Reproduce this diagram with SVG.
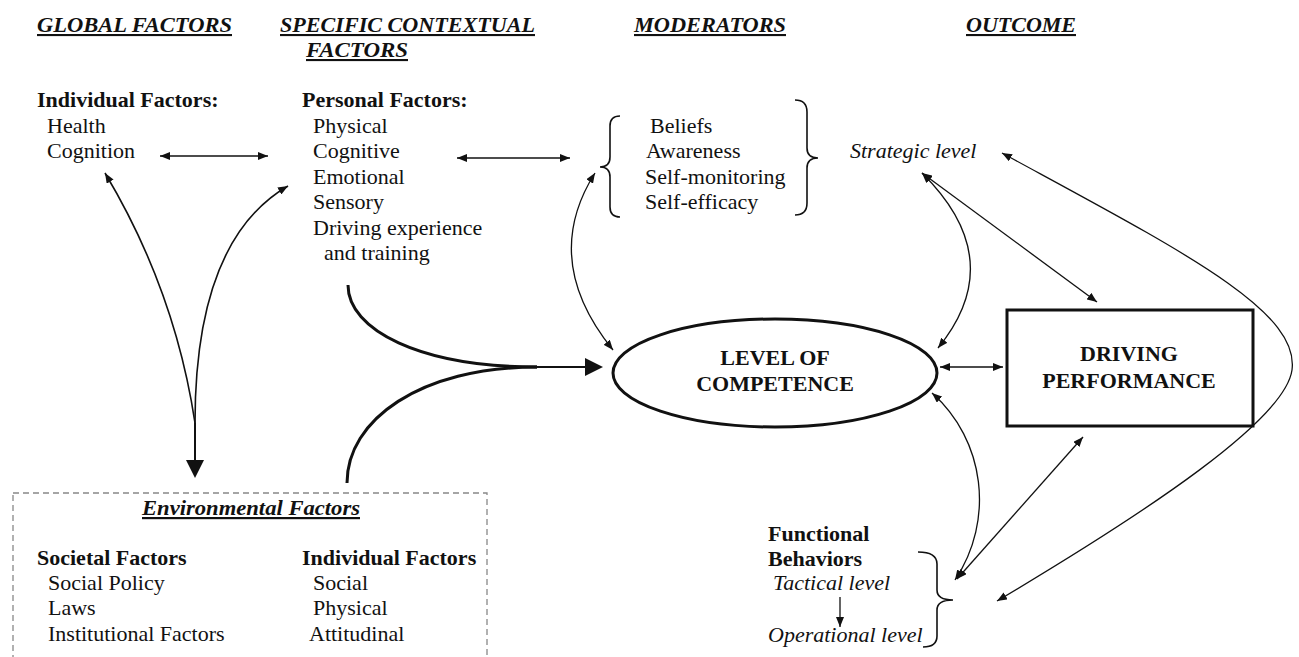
<svg xmlns="http://www.w3.org/2000/svg" width="1299" height="657" viewBox="0 0 1299 657">
<style>
text{font-family:"Liberation Serif","Times New Roman",serif;fill:#111;font-size:22px}
.h{font-weight:bold;font-style:italic;font-size:21px;text-decoration:underline}
.b{font-weight:bold}
.i{font-style:italic}
.bc{font-weight:bold;text-anchor:middle}
.thin{fill:none;stroke:#111;stroke-width:1.3}
.ar{fill:none;stroke:#111;stroke-width:1.3;marker-start:url(#a);marker-end:url(#a)}
.thick{fill:none;stroke:#111;stroke-width:3}
</style>
<defs>
<marker id="a" viewBox="0 0 10 8" refX="10" refY="4" markerWidth="10" markerHeight="8" markerUnits="userSpaceOnUse" orient="auto-start-reverse">
<path d="M0,0 L10,4 L0,8 Z" fill="#111"/>
</marker>
<marker id="a1" viewBox="0 0 10 8" refX="10" refY="4" markerWidth="10" markerHeight="8" markerUnits="userSpaceOnUse" orient="auto">
<path d="M0,0 L10,4 L0,8 Z" fill="#111"/>
</marker>
</defs>
<rect width="1299" height="657" fill="#fff"/>
<g id="headers">
<text class="h" x="37" y="32" textLength="195" lengthAdjust="spacingAndGlyphs">GLOBAL FACTORS</text>
<text class="h" x="280" y="32" textLength="255" lengthAdjust="spacingAndGlyphs">SPECIFIC CONTEXTUAL</text>
<text class="h" x="306" y="57" textLength="102" lengthAdjust="spacingAndGlyphs">FACTORS</text>
<text class="h" x="634" y="32" textLength="152" lengthAdjust="spacingAndGlyphs">MODERATORS</text>
<text class="h" x="966" y="32" textLength="110" lengthAdjust="spacingAndGlyphs">OUTCOME</text>
</g>
<g id="global-individual">
<text class="b" x="37" y="107">Individual Factors:</text>
<text x="47" y="133">Health</text>
<text x="47" y="158">Cognition</text>
</g>
<g id="personal">
<text class="b" x="302" y="107">Personal Factors:</text>
<text x="313" y="133">Physical</text>
<text x="313" y="158">Cognitive</text>
<text x="313" y="184">Emotional</text>
<text x="313" y="209">Sensory</text>
<text x="313" y="235">Driving experience</text>
<text x="324" y="260">and training</text>
</g>
<g id="moderators">
<path class="thin" style="stroke-width:1.6" d="M620,116 Q610,116 610,126 L610,157 Q610,167 600,167 Q610,167 610,177 L610,207 Q610,217 620,217"/>
<path class="thin" style="stroke-width:1.6" d="M795,100 Q807,100 807,112 L807,148 Q807,158 818,158 Q807,158 807,168 L807,203 Q807,215 795,215"/>
<text x="650" y="133">Beliefs</text>
<text x="646" y="158">Awareness</text>
<text x="645" y="184">Self-monitoring</text>
<text x="645" y="209">Self-efficacy</text>
</g>
<g id="strategic">
<text class="i" x="850" y="158">Strategic level</text>
</g>
<g id="competence">
<ellipse cx="775" cy="373" rx="162" ry="54" fill="none" stroke="#111" stroke-width="3"/>
<text class="bc" x="775" y="365">LEVEL OF</text>
<text class="bc" x="775" y="391">COMPETENCE</text>
</g>
<g id="performance">
<rect x="1007" y="310" width="246" height="116" fill="none" stroke="#111" stroke-width="3"/>
<text class="bc" x="1129" y="361">DRIVING</text>
<text class="bc" x="1129" y="388">PERFORMANCE</text>
</g>
<g id="functional">
<text class="b" x="768" y="541">Functional</text>
<text class="b" x="768" y="566">Behaviors</text>
<text class="i" x="773" y="590">Tactical level</text>
<text class="i" x="768" y="642">Operational level</text>
<path class="thin" style="stroke-width:1.6" d="M918,552 Q937,552 937,564 L937,590 Q937,600 953,600 Q937,600 937,610 L937,636 Q937,647 923,647"/>
</g>
<g id="environmental">
<rect x="13" y="493" width="474" height="180" fill="none" stroke="#888" stroke-width="1.3" stroke-dasharray="6,4"/>
<text class="b i" x="142" y="515" textLength="218" lengthAdjust="spacingAndGlyphs" style="text-decoration:underline">Environmental Factors</text>
<text class="b" x="37" y="565">Societal Factors</text>
<text x="48" y="590">Social Policy</text>
<text x="48" y="615">Laws</text>
<text x="48" y="641">Institutional Factors</text>
<text class="b" x="302" y="565">Individual Factors</text>
<text x="313" y="590">Social</text>
<text x="313" y="615">Physical</text>
<text x="309" y="641">Attitudinal</text>
</g>
<g id="connectors">
<line class="ar" x1="160" y1="156" x2="268" y2="156"/>
<line class="ar" x1="457" y1="158" x2="570" y2="158"/>
<path class="thin" style="stroke-width:1.6;marker-end:url(#a1)" d="M195,423 Q175,290 105,173"/>
<path class="thin" style="stroke-width:1.6;marker-end:url(#a1)" d="M195,423 Q195,240 288,186"/>
<line x1="195" y1="423" x2="195" y2="462" stroke="#111" stroke-width="2"/>
<path d="M186,460 L204,460 L195,478 Z" fill="#111"/>
<path class="thick" d="M348,285 C348,330 420,367 537,367"/>
<path class="thick" d="M347,483 C347,420 420,367 537,367"/>
<line x1="537" y1="367" x2="587" y2="367" stroke="#111" stroke-width="2"/>
<path d="M585,358 L603,367 L585,376 Z" fill="#111"/>
<path class="ar" d="M595,173 Q540,260 613,350"/>
<path class="ar" d="M922,173 Q1010,260 938,348"/>
<line class="ar" x1="922" y1="173" x2="1097" y2="302"/>
<path class="ar" d="M1002,153 C1180,250 1300,310 1292,370 C1285,420 1150,510 997,601"/>
<line class="ar" x1="940" y1="367" x2="1003" y2="367"/>
<path class="ar" d="M932,393 C985,440 995,520 955,580"/>
<line class="ar" x1="1083" y1="437" x2="957" y2="579"/>
<line class="thin" x1="840" y1="597" x2="840" y2="627" style="marker-end:url(#a1)"/>
</g>
</svg>
